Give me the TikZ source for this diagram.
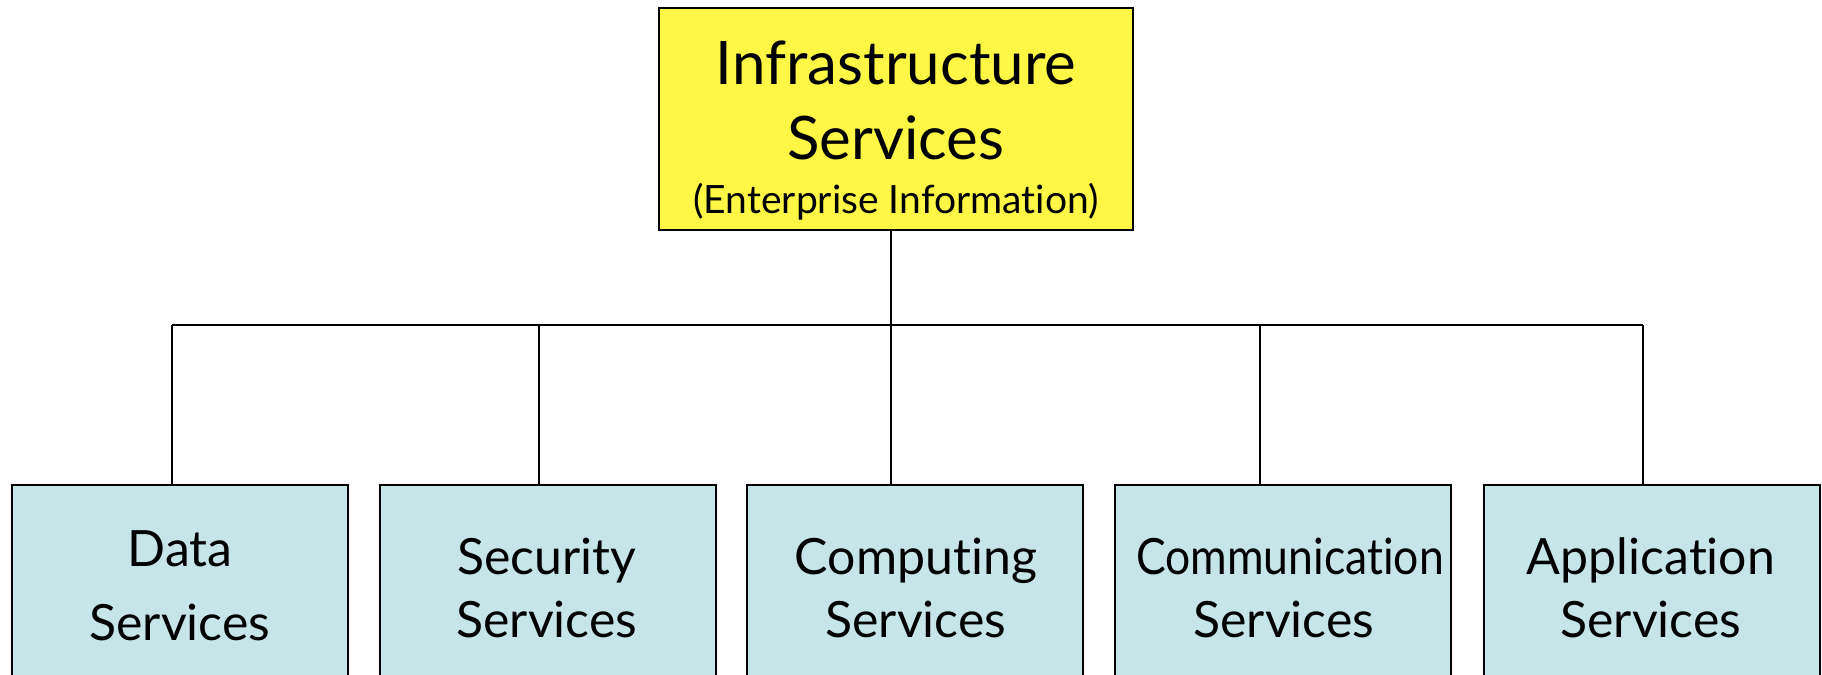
\documentclass[tikz,border=0pt]{standalone}
\usepackage{fontspec}
\setmainfont{Lato}[Ligatures={NoCommon,NoRare,NoDiscretionary}]
\definecolor{rootfill}{RGB}{255,247,70}
\definecolor{leaffill}{RGB}{197,229,232}
\begin{document}
\begin{tikzpicture}[x=0.5pt,y=-0.5pt,
  box/.style={draw=black,line width=1pt,inner sep=0pt,rectangle},
  rootbox/.style={box,fill=rootfill,minimum width=237pt,minimum height=111pt},
  leafbox/.style={box,fill=leaffill,minimum width=168pt,minimum height=107.5pt},
  lbl/.style={anchor=base,inner sep=0pt},
  big/.style={lbl,font=\fontsize{30}{36}\selectfont},
  small/.style={lbl,font=\fontsize{19.5}{23}\selectfont},
  leaf/.style={lbl,font=\fontsize{25}{30}\selectfont},
  wire/.style={line width=1pt}]
\useasboundingbox (0,0) rectangle (1822,675);
\clip (0,0) rectangle (1822,675);

% root box
\node[rootbox] (root) at (896,119) {};
\node[big] (r1) at (896,84) {Infrastructure};
\node[big] (r2) at (896,159) {Services};
\node[small] (r3) at (896,213) {(Enterprise Information)};

% child boxes (running off the lower edge)
\node[leafbox] (c1) at (180,592.5) {};
\node[leafbox] (c2) at (548,592.5) {};
\node[leafbox] (c3) at (915,592.5) {};
\node[leafbox] (c4) at (1283,592.5) {};
\node[leafbox] (c5) at (1652,592.5) {};

\node[leaf] (t1a) at (180,566) {Data};
\node[leaf] (t1b) at (180,640) {Services};
\node[leaf] (t2a) at (547,574) {Security};
\node[leaf] (t2b) at (547,637) {Services};
\node[leaf] (t3a) at (916,574) {Computing};
\node[leaf] (t3b) at (916,637) {Services};
\node[leaf] (t4a) at (1290,574) {\scalebox{0.89}[1]{Communication}};
\node[leaf] (t4b) at (1284,637) {Services};
\node[leaf] (t5a) at (1651,574) {Application};
\node[leaf] (t5b) at (1651,637) {Services};

% bus junctions
\coordinate (j1) at (172,325);
\coordinate (j2) at (539,325);
\coordinate (j3) at (891,325);
\coordinate (j4) at (1260,325);
\coordinate (j5) at (1643,325);

\draw[wire] (root.south -| j3) -- (j3);
\draw[wire] (j1) -- (j5);
\draw[wire] (j1) -- (j1 |- c1.north);
\draw[wire] (j2) -- (j2 |- c2.north);
\draw[wire] (j3) -- (j3 |- c3.north);
\draw[wire] (j4) -- (j4 |- c4.north);
\draw[wire] (j5) -- (j5 |- c5.north);
\end{tikzpicture}
\end{document}
